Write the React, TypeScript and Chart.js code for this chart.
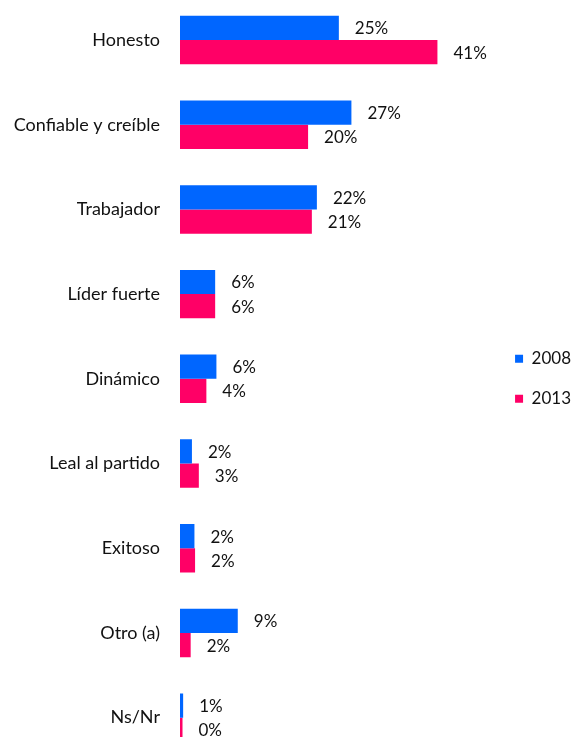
import React, { useEffect, useRef } from "react";
import { Chart, registerables } from "chart.js";

Chart.register(...registerables);

const categories = [
  "Honesto",
  "Confiable y creíble",
  "Trabajador",
  "Líder fuerte",
  "Dinámico",
  "Leal al partido",
  "Exitoso",
  "Otro (a)",
  "Ns/Nr",
];
const seriesNames = ["2008", "2013"];
const values2008 = [25.3, 27.3, 21.8, 5.6, 5.8, 1.9, 2.3, 9.2, 0.5];
const values2013 = [41.0, 20.4, 21.0, 5.6, 4.2, 3.0, 2.4, 1.7, 0.4];

const BLUE = "rgb(0,102,255)";
const PINK = "rgb(255,0,102)";
const FONT = "Lato";

const valueLabels = {
  id: "valueLabels",
  afterDatasetsDraw(chart: any) {
    const ctx = chart.ctx;
    ctx.save();
    ctx.font = `17px ${FONT}`;
    ctx.fillStyle = "#111";
    ctx.textAlign = "left";
    ctx.textBaseline = "middle";
    chart.data.datasets.forEach((ds: any, di: number) => {
      const meta = chart.getDatasetMeta(di);
      meta.data.forEach((bar: any, i: number) => {
        const v = ds.data[i];
        ctx.fillText(`${Math.round(v)}%`, bar.x + 16, bar.y + 1);
      });
    });
    ctx.restore();
  },
};

export default function App() {
  const ref = useRef<HTMLCanvasElement>(null);
  useEffect(() => {
    const chart = new Chart(ref.current!, {
      type: "bar",
      data: {
        labels: categories,
        datasets: [
          { label: seriesNames[0], data: values2008, backgroundColor: BLUE },
          { label: seriesNames[1], data: values2013, backgroundColor: PINK },
        ],
      },
      options: {
        indexAxis: "y",
        animation: false,
        responsive: true,
        maintainAspectRatio: false,
        datasets: { bar: { categoryPercentage: 0.572, barPercentage: 1.0 } },
        layout: { padding: { top: 17.64, bottom: 10, left: 0, right: 2 } },
        scales: {
          x: {
            display: false,
            min: 0,
            max: 49.7,
          },
          y: {
            grid: { display: false, drawTicks: false },
            border: { display: false },
            ticks: {
              padding: 20,
              color: "#111",
              font: { family: FONT, size: 18 },
            },
            afterFit: (scale: any) => {
              scale.width = 180;
              scale.paddingTop = 0;
              scale.paddingBottom = 0;
            },
          },
        },
        plugins: {
          legend: {
            position: "right",
            labels: {
              boxWidth: 8,
              boxHeight: 8,
              padding: 23,
              color: "#111",
              font: { family: FONT, size: 17 },
            },
          },
          tooltip: { enabled: false },
        },
      },
      plugins: [valueLabels],
    });
    return () => chart.destroy();
  }, []);
  return (
    <div
      style={{
        position: "fixed",
        left: 0,
        top: 0,
        width: 573,
        height: 737,
        overflow: "hidden",
        background: "#fff",
      }}
    >
      <div style={{ position: "absolute", left: 0, top: -20, width: 583, height: 790 }}>
        <canvas ref={ref} />
      </div>
    </div>
  );
}
